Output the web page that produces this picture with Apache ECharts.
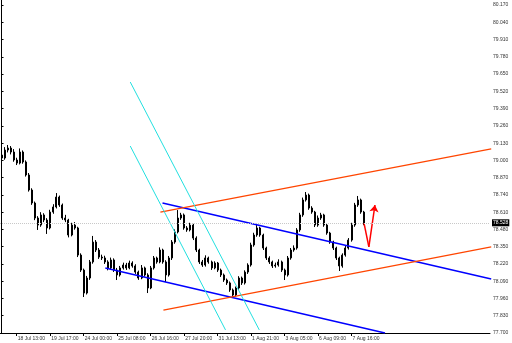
<!DOCTYPE html>
<html>
<head>
<meta charset="utf-8">
<script src="https://cdn.jsdelivr.net/npm/echarts@6/dist/echarts.min.js"></script>
<style>html,body{margin:0;padding:0;background:#fff;}#c{width:512px;height:343px;}</style>
</head>
<body>
<div id="c"></div>
<script>
// ---- data (USDJPY-like) ----
const opens = [79.040,79.018,79.078,79.093,79.063,79.003,78.980,79.063,78.988,78.890,78.777,78.679,78.566,78.513,78.589,78.551,78.491,78.611,78.649,78.724,
78.664,78.566,78.551,78.438,78.513,78.491,78.287,78.174,78.001,78.114,78.235,78.385,78.325,78.272,78.265,78.235,78.190,78.250,78.174,78.137,
78.190,78.212,78.190,78.227,78.205,78.159,78.114,78.190,78.137,78.039,78.190,78.265,78.235,78.325,78.235,78.137,78.265,78.385,78.461,78.566,
78.589,78.491,78.476,78.513,78.415,78.325,78.235,78.212,78.265,78.235,78.190,78.227,78.174,78.137,78.099,78.077,78.024,77.986,78.039,78.114,
78.077,78.159,78.212,78.363,78.438,78.491,78.438,78.340,78.265,78.235,78.205,78.212,78.235,78.174,78.137,78.265,78.325,78.340,78.476,78.589,
78.702,78.739,78.641,78.611,78.513,78.566,78.589,78.513,78.453,78.385,78.340,78.265,78.205,78.287,78.340,78.400,78.513,78.664,78.702,78.611];
const closes = [79.018,79.078,79.093,79.063,79.003,78.980,79.063,78.988,78.890,78.777,78.679,78.566,78.513,78.589,78.551,78.491,78.611,78.649,78.724,78.664,
78.566,78.551,78.438,78.513,78.491,78.287,78.174,78.001,78.114,78.235,78.385,78.325,78.272,78.265,78.235,78.190,78.250,78.174,78.137,78.190,
78.212,78.190,78.227,78.205,78.159,78.114,78.190,78.137,78.039,78.190,78.265,78.235,78.325,78.235,78.137,78.265,78.385,78.461,78.566,78.589,
78.491,78.476,78.513,78.415,78.325,78.235,78.212,78.265,78.235,78.190,78.227,78.174,78.137,78.099,78.077,78.024,77.986,78.039,78.114,78.077,
78.159,78.212,78.363,78.438,78.491,78.438,78.340,78.265,78.235,78.205,78.212,78.235,78.174,78.137,78.265,78.325,78.340,78.476,78.589,78.702,
78.739,78.641,78.611,78.513,78.566,78.589,78.513,78.453,78.385,78.340,78.265,78.205,78.287,78.340,78.400,78.513,78.664,78.702,78.611,78.528];
const highs = [79.062,79.100,79.116,79.108,79.085,79.020,79.090,79.075,79.000,78.905,78.790,78.690,78.580,78.610,78.602,78.565,78.628,78.670,78.754,78.735,
78.675,78.590,78.560,78.530,78.535,78.500,78.300,78.185,78.130,78.250,78.431,78.400,78.340,78.290,78.282,78.248,78.268,78.262,78.190,78.205,
78.230,78.228,78.245,78.240,78.218,78.170,78.212,78.200,78.150,78.205,78.280,78.275,78.345,78.335,78.248,78.280,78.400,78.480,78.626,78.605,
78.600,78.505,78.530,78.522,78.428,78.335,78.250,78.285,78.275,78.245,78.240,78.235,78.185,78.148,78.110,78.088,78.035,78.050,78.128,78.125,
78.172,78.225,78.380,78.455,78.513,78.500,78.448,78.350,78.278,78.245,78.230,78.255,78.245,78.185,78.280,78.340,78.360,78.490,78.605,78.720,
78.762,78.750,78.655,78.620,78.585,78.605,78.598,78.522,78.462,78.395,78.350,78.275,78.300,78.355,78.415,78.530,78.680,78.732,78.712,78.620];
const lows = [79.000,79.005,79.060,79.045,78.990,78.965,78.970,78.975,78.878,78.765,78.665,78.550,78.476,78.500,78.535,78.446,78.480,78.598,78.638,78.650,
78.552,78.535,78.420,78.428,78.478,78.272,78.160,77.971,77.990,78.100,78.222,78.310,78.258,78.250,78.220,78.172,78.178,78.160,78.099,78.125,
78.178,78.175,78.180,78.192,78.145,78.100,78.105,78.125,78.001,78.030,78.178,78.222,78.225,78.222,78.084,78.125,78.250,78.372,78.450,78.552,
78.478,78.462,78.465,78.400,78.310,78.220,78.198,78.200,78.222,78.175,78.180,78.160,78.122,78.085,78.062,78.010,77.964,77.975,78.025,78.062,
78.065,78.145,78.200,78.350,78.425,78.425,78.325,78.250,78.220,78.190,78.192,78.200,78.160,78.099,78.125,78.252,78.312,78.328,78.462,78.575,
78.690,78.628,78.598,78.498,78.500,78.552,78.500,78.440,78.372,78.325,78.250,78.167,78.192,78.275,78.328,78.388,78.500,78.650,78.598,78.512];
const timeLabels = ["18 Jul 13:00","19 Jul 17:00","24 Jul 00:00","25 Jul 08:00","26 Jul 16:00","27 Jul 20:00","31 Jul 13:00","1 Aug 21:00","3 Aug 05:00","6 Aug 09:00","7 Aug 16:00"];
const currentPrice = 78.528;
// trend objects: [barIndex, price] endpoints
const blueUpper = [[52.9,78.679],[160.9,78.107]];
const blueLower = [[34.1,78.190],[126.0,77.700]];
const redUpper  = [[52.2,78.611],[160.9,79.086]];
const redLower  = [[53.2,77.873],[160.9,78.348]];
const cyan1     = [[42.3,79.590],[84.7,77.723]];
const cyan2     = [[42.3,79.108],[73.6,77.723]];
const arrowDown = [[119.1,78.528],[120.7,78.348]];
const arrowUp   = [[120.7,78.348],[122.7,78.664]];

// ---- axis categories ----
const TOTAL = 161, FIRST = 5, STEP = 11;
const cats = [];
for (let i = 0; i < TOTAL; i++) {
  const k = (i - FIRST) / STEP;
  cats.push(i >= FIRST && Number.isInteger(k) && k < timeLabels.length ? timeLabels[k] : '');
}
const candles = opens.map((o, i) => [o, closes[i], lows[i], highs[i]]);
const isLbl = (idx) => cats[idx] !== '';
const FONT = 'Liberation Sans';

function trend(data, color, width) {
  return { type: 'line', xAxisIndex: 1, yAxisIndex: 0, data: data, symbol: 'none',
    lineStyle: { color: color, width: width }, silent: true, z: 3 };
}
function seg(coords, sym) {
  return { type: 'lines', coordinateSystem: 'cartesian2d', xAxisIndex: 1, yAxisIndex: 0,
    symbol: sym, symbolSize: [5, 7], silent: true, z: 4,
    lineStyle: { color: '#ff0000', width: 1.5, opacity: 1 },
    data: [{ coords: coords }] };
}

const chart = echarts.init(document.getElementById('c'), null, { renderer: 'canvas' });
chart.setOption({
  animation: false,
  backgroundColor: '#ffffff',
  grid: { left: 0, right: 22, top: 0, bottom: 10 },
  xAxis: [{
    type: 'category', data: cats, boundaryGap: true,
    axisLine: { lineStyle: { color: '#000', width: 1 } },
    axisTick: { show: true, length: 3, alignWithLabel: true, interval: (i) => isLbl(i), lineStyle: { color: '#000' } },
    axisLabel: { interval: (i) => isLbl(i), align: 'left', margin: 3, fontSize: 5, color: '#333',
      fontFamily: FONT, padding: [0, 0, 0, 1] },
    splitLine: { show: false }
  }, {
    type: 'value', min: -0.5, max: TOTAL - 0.5, show: false
  }],
  yAxis: [{
    type: 'value', position: 'right', min: 77.70, max: 80.208, interval: 0.13,
    axisLine: { show: true, lineStyle: { color: '#000', width: 1 } },
    axisTick: { show: true, length: 2, lineStyle: { color: '#000' } },
    axisLabel: { fontSize: 5, color: '#333', margin: 3, fontFamily: FONT,
      showMaxLabel: false, formatter: (v) => v.toFixed(3) },
    splitLine: { show: false }
  }],
  series: [{
    type: 'candlestick', xAxisIndex: 0, yAxisIndex: 0, data: candles, barMaxWidth: 2,
    itemStyle: { color: '#ffffff', color0: '#000000', borderColor: '#000000', borderColor0: '#000000', borderWidth: 1 },
    markLine: {
      silent: true, symbol: 'none', animation: false,
      lineStyle: { color: '#c8c8c8', type: 'dotted', width: 1 },
      label: { show: true, position: 'end', formatter: currentPrice.toFixed(3), color: '#fff',
        backgroundColor: '#000', fontSize: 5, padding: [1, 1], distance: 2, fontFamily: FONT },
      data: [{ yAxis: currentPrice }]
    },
    z: 2
  },
  trend(blueUpper, '#0000ff', 1.5),
  trend(blueLower, '#0000ff', 1.5),
  trend(redUpper, '#ff4500', 1.3),
  trend(redLower, '#ff4500', 1.3),
  trend(cyan1, '#22e0e0', 1),
  trend(cyan2, '#22e0e0', 1),
  seg(arrowDown, ['none', 'none']),
  seg(arrowUp, ['none', 'arrow'])
  ]
});
</script>
</body>
</html>
